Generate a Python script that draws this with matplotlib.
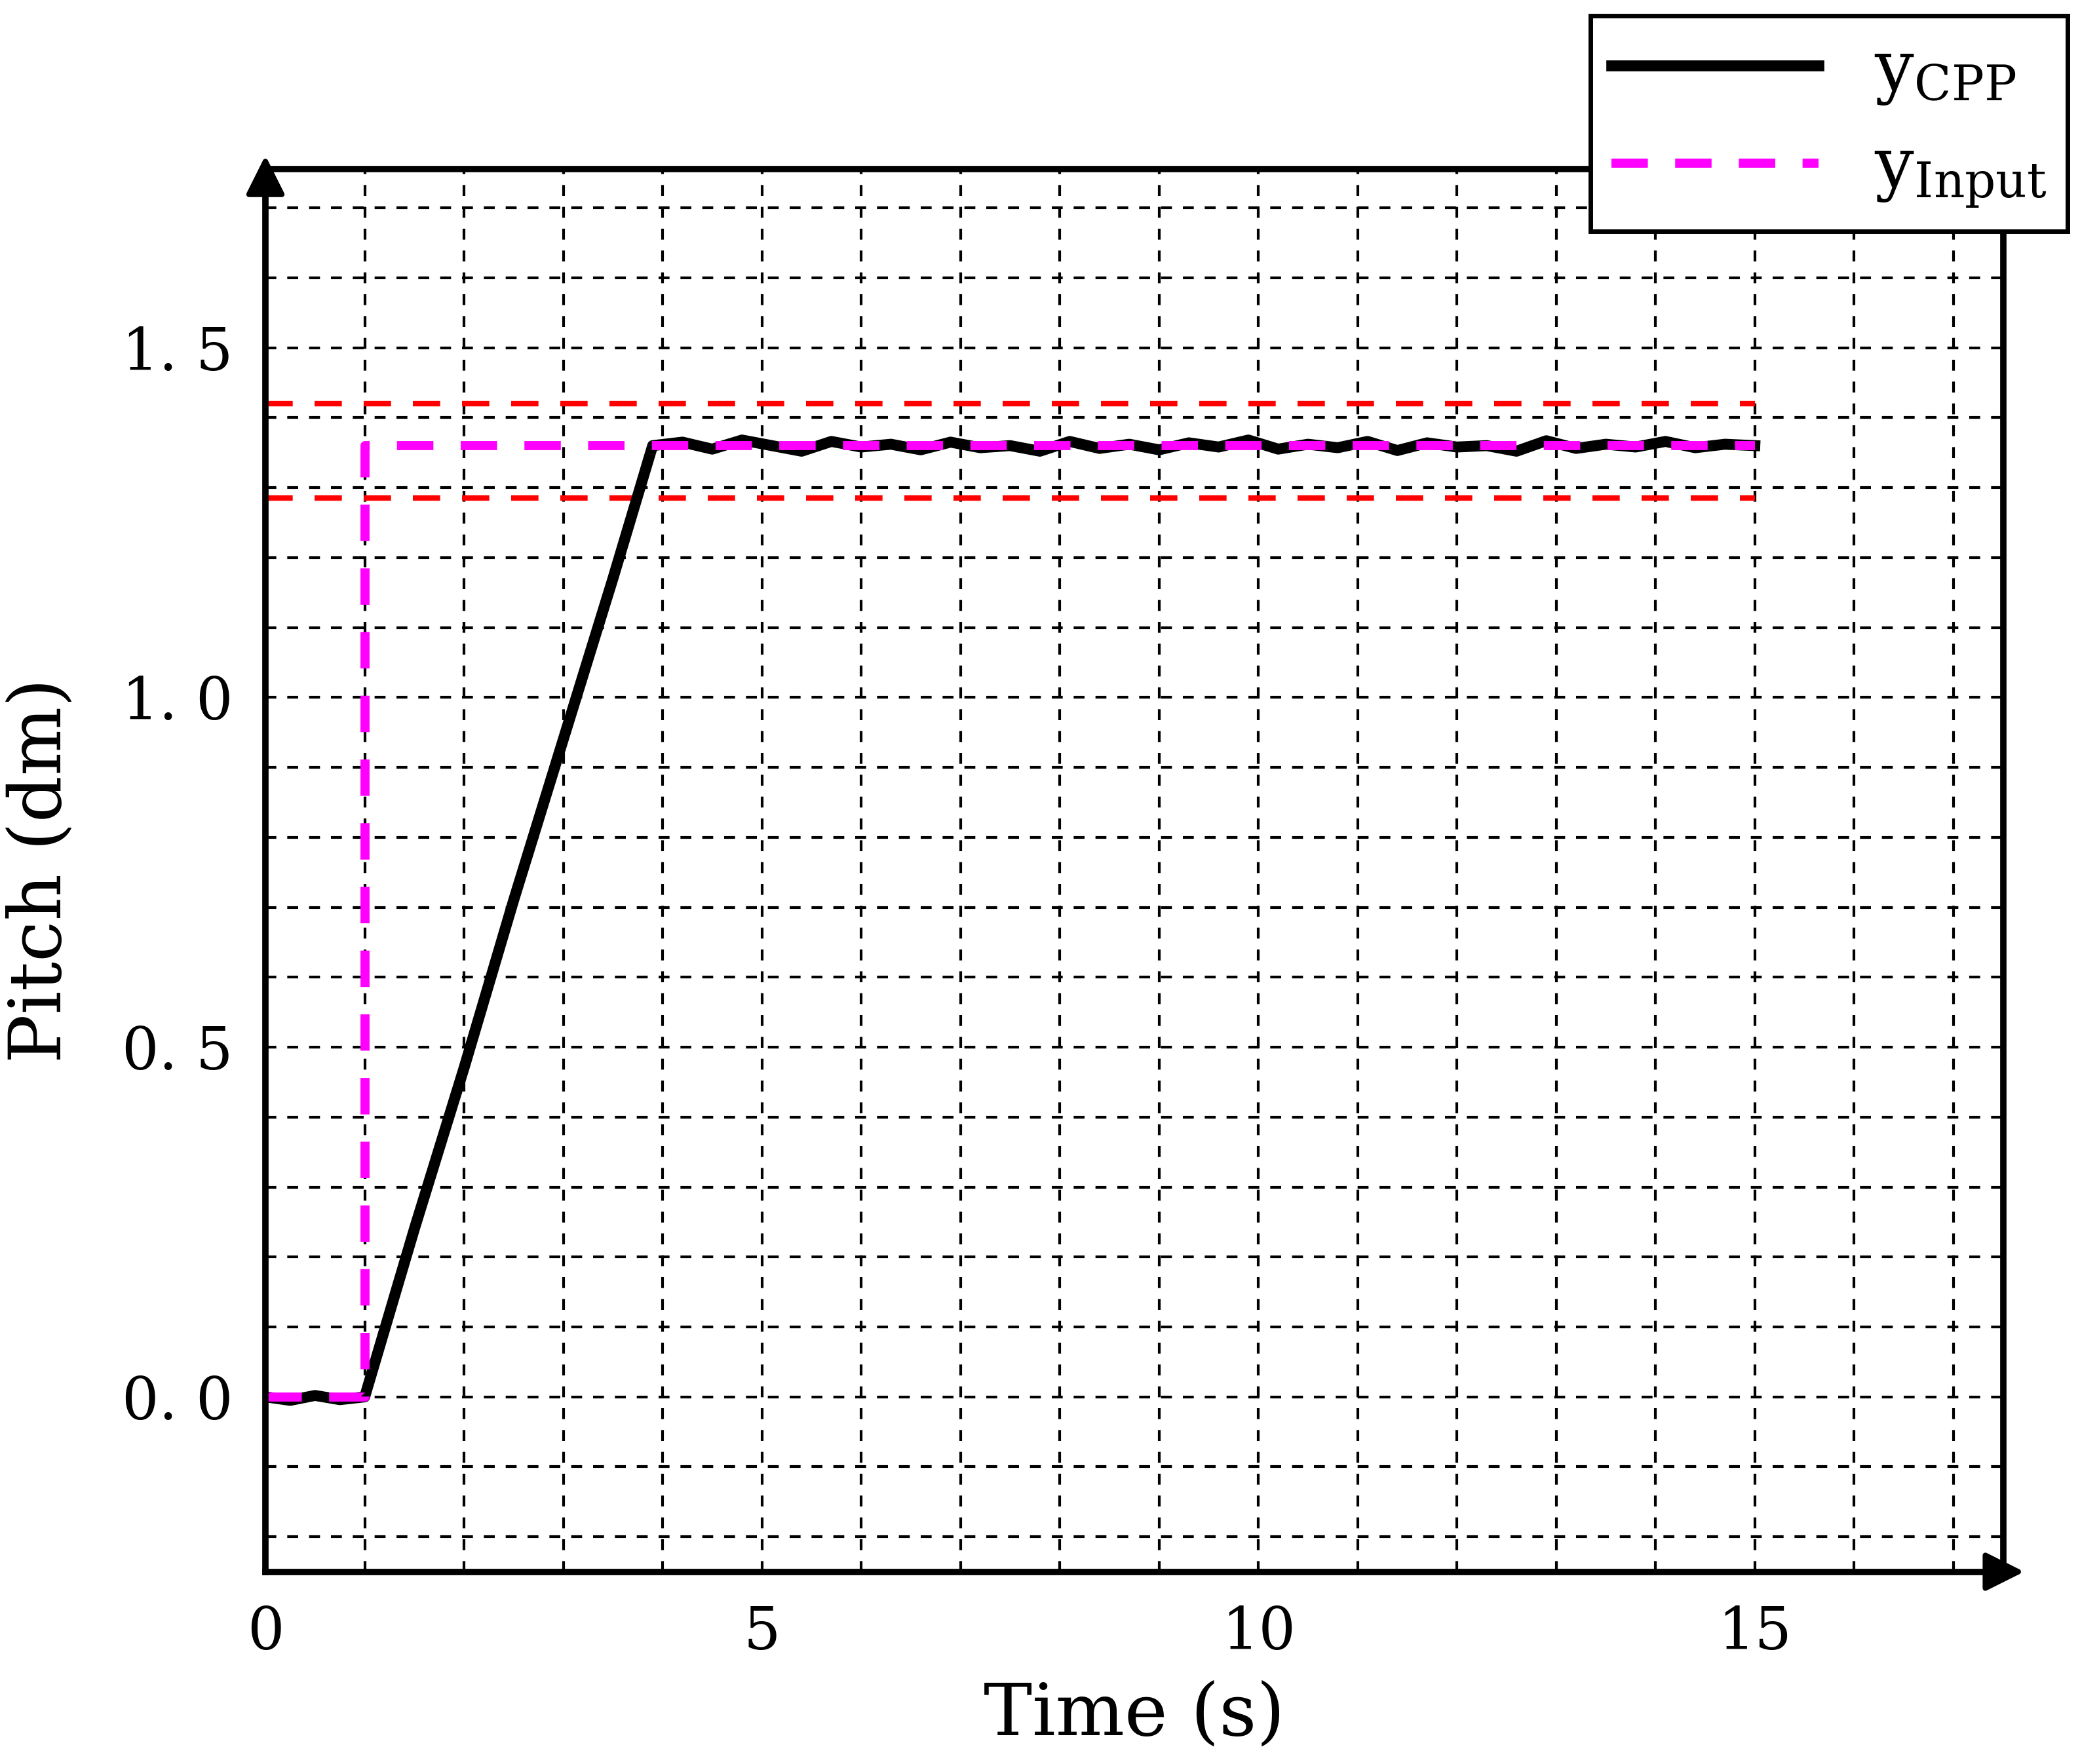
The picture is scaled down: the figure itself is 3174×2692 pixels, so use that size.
import numpy as np
import matplotlib.pyplot as plt

t_cpp = [0, 0.25, 0.5, 0.75, 1.0, 1.5, 2.0, 2.5, 3.0, 3.5, 3.9,
         4.2, 4.5, 4.8, 5.1, 5.4, 5.7, 6.0, 6.3, 6.6, 6.9, 7.2, 7.5, 7.8,
         8.1, 8.4, 8.7, 9.0, 9.3, 9.6, 9.9, 10.2, 10.5, 10.8, 11.1, 11.4,
         11.7, 12.0, 12.3, 12.6, 12.9, 13.2, 13.5, 13.8, 14.1, 14.4, 14.7, 15.0]
y_cpp = [0.0, -0.005, 0.002, -0.004, 0.0, 0.24, 0.47, 0.71, 0.94, 1.17, 1.36,
         1.365, 1.355, 1.368, 1.36, 1.352, 1.366, 1.358, 1.362, 1.354, 1.365, 1.357, 1.36, 1.352,
         1.366, 1.356, 1.362, 1.354, 1.364, 1.358, 1.368, 1.355, 1.362, 1.357, 1.366, 1.353,
         1.364, 1.358, 1.36, 1.352, 1.367, 1.356, 1.362, 1.358, 1.366, 1.357, 1.362, 1.36]
t_input = [0, 1.0, 1.0, 15]
y_input = [0, 0, 1.36, 1.36]
band_upper = 1.42
band_lower = 1.285

plt.rcParams['font.family'] = ['DejaVu Serif']
plt.rcParams['mathtext.fontset'] = 'dejavuserif'
fig = plt.figure(figsize=(15.87, 13.46), dpi=200)
ax = fig.add_axes([0.1276, 0.109, 0.8354, 0.795])

ax.plot([0, 15], [band_upper]*2, color='red', ls=(0, (5, 4)), lw=3)
ax.plot([0, 15], [band_lower]*2, color='red', ls=(0, (5, 4)), lw=3)
l1, = ax.plot(t_cpp, y_cpp, color='black', lw=6, label='$\\mathrm{y_{CPP}}$')
l2, = ax.plot(t_input, y_input, color='magenta', ls=(0, (4, 3)), lw=5, label='$\\mathrm{y_{Input}}$')

ax.set_xlim(0, 17.5)
ax.set_ylim(-0.25, 1.755)
ax.set_xticks([0, 5, 10, 15])
ax.set_yticks([0.0, 0.5, 1.0, 1.5])
ax.set_yticklabels(['0. 0', '0. 5', '1. 0', '1. 5'])
ax.set_xticks(np.arange(0, 17.5, 1), minor=True)
ax.set_yticks(np.arange(-0.2, 1.75, 0.1), minor=True)
ax.grid(True, which='both', color='black', ls=(0, (4, 4)), lw=1.5)
ax.tick_params(labelsize=32, direction='in', length=0, which='both', pad=18)
for s in ax.spines.values():
    s.set_linewidth(3.5)
ax.set_xlabel('Time (s)', fontsize=40, labelpad=10)
ax.set_ylabel('Pitch (dm)', fontsize=40, labelpad=25)

# axis arrows
ax.annotate('', xy=(0, 1.78), xytext=(0, 1.70), xycoords='data',
            arrowprops=dict(arrowstyle='-|>', color='black', lw=3, mutation_scale=45), annotation_clip=False)
ax.annotate('', xy=(17.75, -0.25), xytext=(17.3, -0.25), xycoords='data',
            arrowprops=dict(arrowstyle='-|>', color='black', lw=3, mutation_scale=45), annotation_clip=False)

leg = fig.legend(handles=[l1, l2], loc='upper right', bbox_to_anchor=(0.994, 0.991),
                 fontsize=38, frameon=True, fancybox=False, edgecolor='black', framealpha=1,
                 handlelength=3.0, borderpad=0.3, labelspacing=0.4, borderaxespad=0)
leg.get_frame().set_linewidth(2.5)
fig.canvas.draw()
# stretch legend box downward like reference
bb = leg.get_frame().get_bbox()
leg.get_frame().set_bounds(bb.x0, bb.y1 - 0.165 * fig.bbox.height, bb.width, 0.165 * fig.bbox.height)
fig.savefig('out.png', dpi=200)
